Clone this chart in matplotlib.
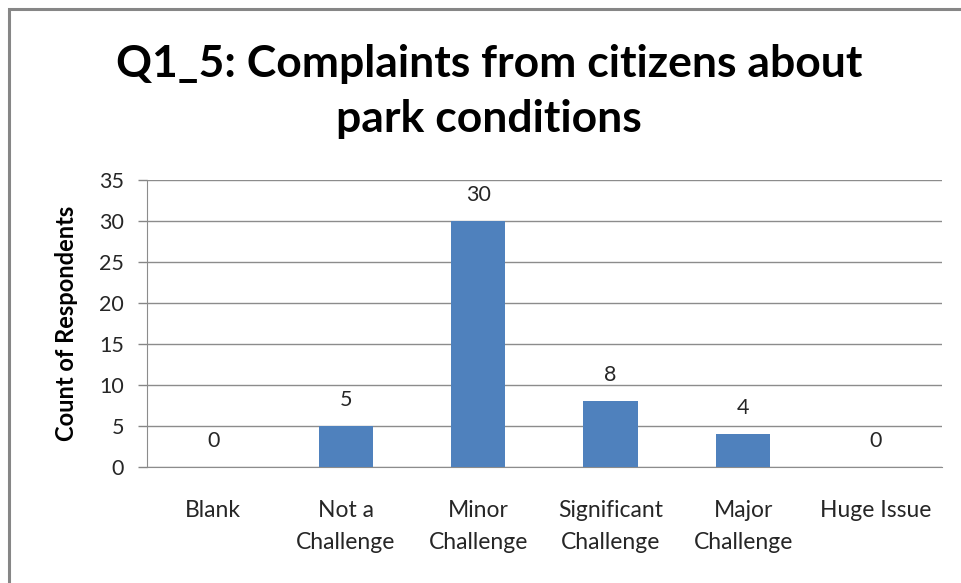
import matplotlib.pyplot as plt
from matplotlib.patches import Rectangle

categories = ["Blank", "Not a\nChallenge", "Minor\nChallenge", "Significant\nChallenge",
              "Major\nChallenge", "Huge Issue"]
counts = [0, 5, 30, 8, 4, 0]

plt.rcParams['font.family'] = ['Lato', 'DejaVu Sans']

fig = plt.figure(figsize=(9.62, 5.83), dpi=100)
ax = fig.add_axes([0.1528, 0.199, 0.979 - 0.1528, 0.6913 - 0.199])

# outer chart frame (runs off the right/bottom edge like the original)
fig.patches.append(Rectangle((9 / 962, -0.1), 1.2, 1 - 9 / 583 + 0.1,
                             transform=fig.transFigure, fill=False,
                             edgecolor='#868686', linewidth=2.2))

x = range(len(categories))
ax.bar(x, counts, width=0.41, color='#4F81BD', zorder=3)
for xi, c in zip(x, counts):
    ax.annotate(str(c), (xi, c), xytext=(0, 19), textcoords='offset points',
                ha='center', va='center', fontsize=15.5, color='#262626')

ax.set_xlim(-0.5, len(categories) - 0.5)
ax.set_ylim(0, 35)
ax.set_yticks(range(0, 36, 5))
ax.set_xticks(list(x))
ax.set_xticklabels(categories, fontsize=16.5, color='#262626', linespacing=1.6)
ax.tick_params(axis='x', length=0, pad=24)
ax.tick_params(axis='y', length=6.5, width=1, color='#868686', labelsize=15.5,
               labelcolor='#262626', pad=10)
ax.grid(axis='y', color='#8c8c8c', linewidth=1, zorder=0)
for s in ['top', 'right']:
    ax.spines[s].set_visible(False)
for s in ['left', 'bottom']:
    ax.spines[s].set_color('#8c8c8c')
ax.set_ylabel("Count of Respondents", fontsize=17, fontweight='bold', labelpad=15)

fig.text(0.508, 0.843, "Q1_5: Complaints from citizens about\npark conditions",
         ha='center', va='center', fontsize=32, fontweight='bold', linespacing=1.45)

fig.savefig("out.png", dpi=100)
